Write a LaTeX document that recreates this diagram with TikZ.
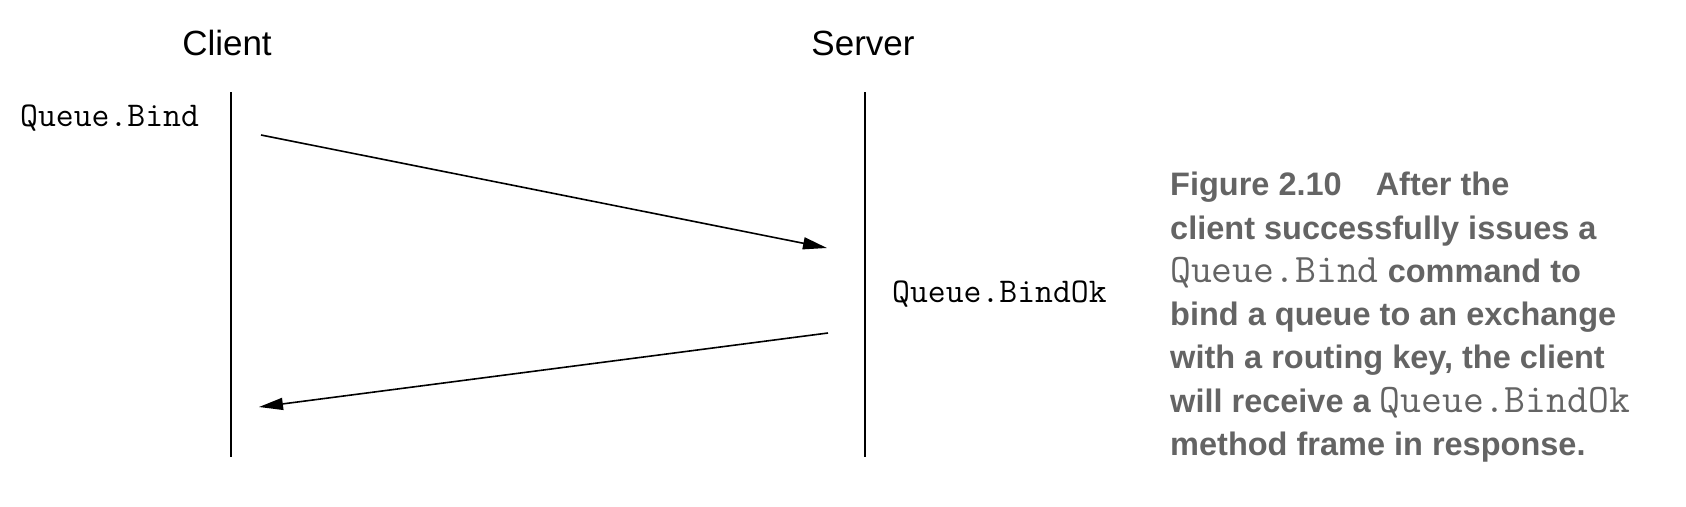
\documentclass[tikz,border=0pt]{standalone}
\usepackage{fontspec}
\setmainfont{Liberation Sans}
\usetikzlibrary{arrows.meta}
\definecolor{capgray}{RGB}{100,100,100}
\tikzset{
  lifeline/.style={line width=1.8pt, black},
  msg/.style={line width=1.6pt, black, -{Triangle[length=24pt,width=12pt]}},
  actor/.style={font=\fontsize{35}{42}\selectfont, inner sep=0pt},
  methodlbl/.style={font=\ttfamily\fontsize{34.7}{40}\selectfont, inner sep=0pt},
  captionbox/.style={font=\bfseries\fontsize{32.5}{43.3}\selectfont, text=capgray, align=left, inner sep=0pt}
}
\newcommand{\capmono}[1]{{\ttfamily\mdseries\fontsize{40.5}{43.3}\selectfont #1}}
\begin{document}
\begin{tikzpicture}[x=1pt,y=-1pt]
\useasboundingbox (0,0) rectangle (1686,506);
\node[actor] (client) at (227,43) {Client};
\node[actor] (server) at (863,43) {Server};
\coordinate (ct) at (231,92);
\coordinate (cb) at (231,457);
\coordinate (st) at (865,92);
\coordinate (sb) at (865,457);
\draw[lifeline] (ct) -- (cb);
\draw[lifeline] (st) -- (sb);
\node[methodlbl, anchor=base west] (bind) at (20,126) {Queue.Bind};
\node[methodlbl, anchor=base west] (bindok) at (892,302) {Queue.BindOk};
\coordinate (a1s) at (261,135);
\coordinate (a1e) at (827,248);
\coordinate (a2s) at (828,333);
\coordinate (a2e) at (259,407);
\draw[msg] (a1s) -- (a1e);
\draw[msg] (a2s) -- (a2e);
\node[captionbox, anchor=north west] (caption) at (1170,172) {Figure 2.10\hspace{34pt}After the\\
client successfully issues a\\
\capmono{Queue.Bind} command to\\
bind a queue to an exchange\\
with a routing key, the client\\
will receive a \capmono{Queue.BindOk}\\
method frame in response.};
\end{tikzpicture}
\end{document}
